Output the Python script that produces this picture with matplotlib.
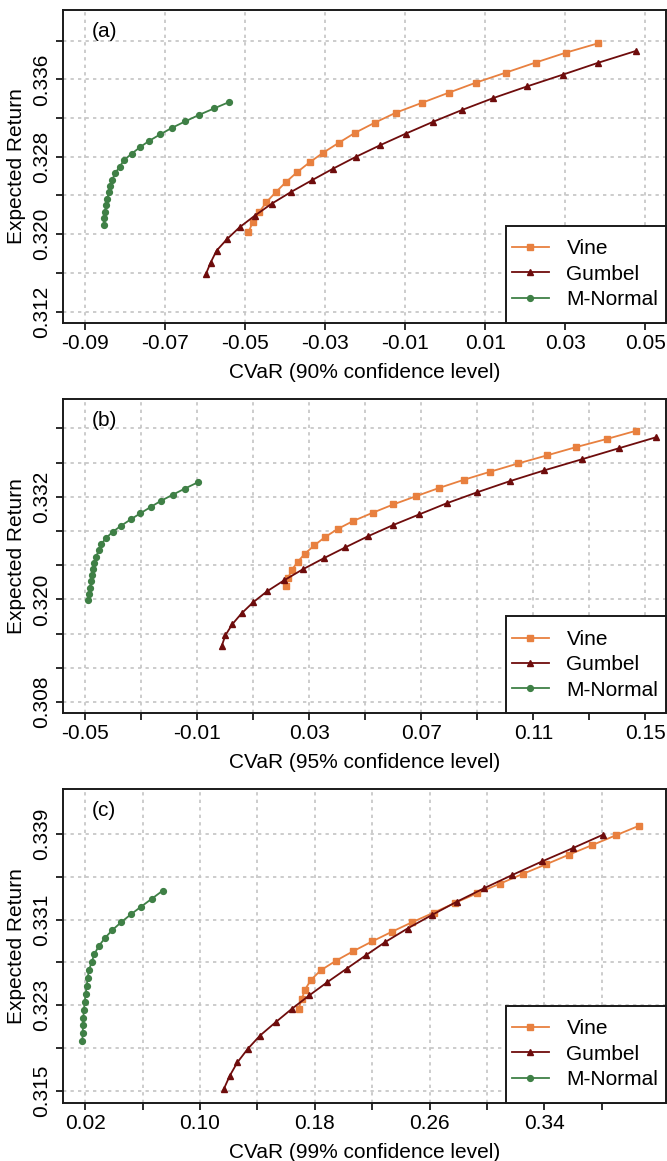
import matplotlib
matplotlib.use("Agg")
import matplotlib.pyplot as plt
from matplotlib.patches import Rectangle
from matplotlib.lines import Line2D

plt.rcParams['font.family'] = ['Liberation Sans', 'DejaVu Sans']

# ---- panel (a): 90% ----
a_vine_x = [-0.04918, -0.04812, -0.04652, -0.04472, -0.04238, -0.03987, -0.03707, -0.03388, -0.03047, -0.02654,
            -0.02261, -0.01761, -0.01230, -0.00571, 0.00089, 0.00769, 0.01513, 0.02257, 0.03012, 0.03820]
a_vine_y = [0.32020, 0.32123, 0.32226, 0.32330, 0.32433, 0.32536, 0.32639, 0.32743, 0.32843, 0.32946,
            0.33046, 0.33152, 0.33256, 0.33359, 0.33462, 0.33566, 0.33669, 0.33773, 0.33875, 0.33972]
a_gumbel_x = [-0.05981, -0.05864, -0.05715, -0.05450, -0.05141, -0.04759, -0.04334, -0.03855, -0.03334, -0.02803,
              -0.02239, -0.01634, -0.00985, -0.00294, 0.00418, 0.01205, 0.02055, 0.02937, 0.03830, 0.04765]
a_gumbel_y = [0.31589, 0.31706, 0.31830, 0.31951, 0.32071, 0.32192, 0.32316, 0.32436, 0.32557, 0.32677,
              0.32798, 0.32918, 0.33039, 0.33163, 0.33283, 0.33407, 0.33528, 0.33648, 0.33772, 0.33893]
a_mnorm_x = [-0.08535, -0.08520, -0.08503, -0.08478, -0.08445, -0.08410, -0.08370, -0.08320, -0.08245, -0.08135,
             -0.08028, -0.07835, -0.07628, -0.07396, -0.07121, -0.06828, -0.06496, -0.06154, -0.05779, -0.05396]
a_mnorm_y = [0.32098, 0.32165, 0.32232, 0.32298, 0.32365, 0.32432, 0.32498, 0.32565, 0.32632, 0.32699,
             0.32765, 0.32832, 0.32899, 0.32965, 0.33032, 0.33099, 0.33166, 0.33232, 0.33299, 0.33366]

# ---- panel (b): 95% ----
b_vine_x = [0.02165, 0.02244, 0.02379, 0.02590, 0.02851, 0.03182, 0.03564, 0.04018, 0.04582, 0.05278,
            0.06006, 0.06813, 0.07634, 0.08512, 0.09469, 0.10458, 0.11504, 0.12536, 0.13632, 0.14678]
b_vine_y = [0.32152, 0.32248, 0.32344, 0.32439, 0.32535, 0.32631, 0.32727, 0.32823, 0.32918, 0.33014,
            0.33110, 0.33206, 0.33302, 0.33397, 0.33493, 0.33589, 0.33685, 0.33781, 0.33876, 0.33972]
b_gumbel_x = [-0.00127, 0.00009, 0.00251, 0.00587, 0.00998, 0.01497, 0.02104, 0.02772, 0.03518, 0.04293,
              0.05096, 0.05978, 0.06935, 0.07906, 0.08998, 0.10155, 0.11401, 0.12736, 0.14057, 0.15378]
b_gumbel_y = [0.31450, 0.31579, 0.31707, 0.31836, 0.31965, 0.32094, 0.32222, 0.32351, 0.32480, 0.32608,
              0.32737, 0.32866, 0.32994, 0.33123, 0.33252, 0.33381, 0.33509, 0.33638, 0.33767, 0.33895]
b_mnorm_x = [-0.04879, -0.04850, -0.04818, -0.04789, -0.04757, -0.04714, -0.04668, -0.04607, -0.04514, -0.04425,
             -0.04257, -0.04015, -0.03711, -0.03376, -0.03026, -0.02662, -0.02298, -0.01873, -0.01434, -0.00977]
b_mnorm_y = [0.31992, 0.32064, 0.32137, 0.32209, 0.32282, 0.32354, 0.32427, 0.32499, 0.32572, 0.32644,
             0.32716, 0.32789, 0.32861, 0.32934, 0.33006, 0.33079, 0.33151, 0.33223, 0.33296, 0.33368]

# ---- panel (c): 99% ----
c_vine_x = [0.16874, 0.17083, 0.17320, 0.17731, 0.18414, 0.19480, 0.20699, 0.22002, 0.23361, 0.24789,
            0.26301, 0.27778, 0.29318, 0.30920, 0.32495, 0.34125, 0.35720, 0.37351, 0.38981, 0.40611]
c_vine_y = [0.32266, 0.32356, 0.32446, 0.32536, 0.32626, 0.32716, 0.32806, 0.32896, 0.32985, 0.33075,
            0.33165, 0.33255, 0.33345, 0.33435, 0.33525, 0.33615, 0.33705, 0.33795, 0.33885, 0.33975]
c_gumbel_x = [0.11656, 0.12074, 0.12604, 0.13321, 0.14178, 0.15272, 0.16401, 0.17613, 0.18888, 0.20226,
              0.21557, 0.22922, 0.24462, 0.26148, 0.27896, 0.29791, 0.31777, 0.33825, 0.35985, 0.38089]
c_gumbel_y = [0.31517, 0.31642, 0.31767, 0.31892, 0.32017, 0.32142, 0.32267, 0.32392, 0.32517, 0.32642,
              0.32766, 0.32891, 0.33016, 0.33141, 0.33266, 0.33391, 0.33516, 0.33641, 0.33766, 0.33891]
c_mnorm_x = [0.01805, 0.01833, 0.01854, 0.01875, 0.01923, 0.01972, 0.02042, 0.02111, 0.02181, 0.02272,
             0.02460, 0.02641, 0.02948, 0.03366, 0.03874, 0.04501, 0.05177, 0.05915, 0.06661, 0.07406]
c_mnorm_y = [0.31964, 0.32038, 0.32112, 0.32186, 0.32260, 0.32334, 0.32408, 0.32482, 0.32556, 0.32630,
             0.32703, 0.32777, 0.32851, 0.32925, 0.32999, 0.33073, 0.33147, 0.33221, 0.33295, 0.33369]

# ticks (label '' = tick without label)
a_xticks = [-0.09, -0.07, -0.05, -0.03, -0.01, 0.01, 0.03, 0.05]
a_xlabels = ['-0.09', '-0.07', '-0.05', '-0.03', '-0.01', '0.01', '0.03', '0.05']
a_yticks = [0.312, 0.316, 0.320, 0.324, 0.328, 0.332, 0.336, 0.340]
a_ylabels = ['0.312', '', '0.320', '', '0.328', '', '0.336', '']

b_xticks = [-0.05, -0.03, -0.01, 0.01, 0.03, 0.05, 0.07, 0.09, 0.11, 0.13, 0.15]
b_xlabels = ['-0.05', '', '-0.01', '', '0.03', '', '0.07', '', '0.11', '', '0.15']
b_yticks = [0.308, 0.312, 0.316, 0.320, 0.324, 0.328, 0.332, 0.336, 0.340]
b_ylabels = ['0.308', '', '', '0.320', '', '', '0.332', '', '']

c_xticks = [0.02, 0.06, 0.10, 0.14, 0.18, 0.22, 0.26, 0.30, 0.34, 0.38]
c_xlabels = ['0.02', '', '0.10', '', '0.18', '', '0.26', '', '0.34', '']
c_yticks = [0.315, 0.319, 0.323, 0.327, 0.331, 0.335, 0.339]
c_ylabels = ['0.315', '', '0.323', '', '0.331', '', '0.339']

series_names = ["Vine", "Gumbel", "M-Normal"]
colors = ["#E8803F", "#6E0C0C", "#3F8046"]
markers = ["s", "^", "o"]
msizes = [4.2, 5.0, 4.2]
FS = 15

W, H = 667, 1161
fig = plt.figure(figsize=(W / 100, H / 100), dpi=100)


def draw_panel(box, xlim, ylim, xt, xl, yt, yl, curves, xlabel, tag):
    left, top, right, bottom = box
    ax = fig.add_axes([left / W, 1 - bottom / H, (right - left) / W, (bottom - top) / H])
    ax.set_xlim(xlim)
    ax.set_ylim(ylim)
    ax.set_xticks(xt)
    ax.set_xticklabels(xl)
    ax.set_yticks(yt)
    ax.set_yticklabels(yl, rotation=90, va='center')
    ax.grid(True, color='#c4c4c4', linestyle=(0, (2, 2.5)), linewidth=1.2)
    ax.set_axisbelow(True)
    for s in ax.spines.values():
        s.set_linewidth(1.4)
        s.set_color('#1a1a1a')
    ax.tick_params(length=5, width=1.3, color='#1a1a1a', labelsize=FS, pad=3)
    ax.tick_params(axis='y', pad=3.5)
    for (x, y), c, m, ms in zip(curves, colors, markers, msizes):
        ax.plot(x, y, color=c, marker=m, markersize=ms, linewidth=1.3)
    ax.set_xlabel(xlabel, fontsize=FS, labelpad=7)
    ax.set_ylabel("Expected Return", fontsize=FS, labelpad=5)
    ax.annotate(tag, xy=(0, 1), xycoords='axes fraction', xytext=(29.5, -15.6),
                textcoords='offset points', ha='center', va='center', fontsize=FS)

    # legend box at the bottom right corner, like R's legend("bottomright")
    wbox = (right - 506) / (right - left)
    hbox = 97 / (bottom - top)
    ax.add_patch(Rectangle((1 - wbox, 0), wbox, hbox, transform=ax.transAxes,
                           facecolor='white', edgecolor='#1a1a1a', linewidth=1.4,
                           zorder=5, clip_on=False))
    handles = [Line2D([], [], color=c, marker=m, markersize=ms, linewidth=1.3)
               for c, m, ms in zip(colors, markers, msizes)]
    leg = ax.legend(handles, series_names, loc='center left',
                    bbox_to_anchor=(1 - wbox, hbox / 2), frameon=False, fontsize=FS,
                    handlelength=1.75, handletextpad=0.85, labelspacing=0.3,
                    borderpad=0.0, borderaxespad=0.3)
    leg.set_zorder(6)
    return ax


draw_panel((63.3, 10, 665.7, 322.7), (-0.09545, 0.0551), (0.31086, 0.34316),
           a_xticks, a_xlabels, a_yticks, a_ylabels,
           [(a_vine_x, a_vine_y), (a_gumbel_x, a_gumbel_y), (a_mnorm_x, a_mnorm_y)],
           "CVaR (90% confidence level)", "(a)")
draw_panel((63.3, 399, 665.7, 713.3), (-0.05778, 0.15728), (0.30667, 0.34343),
           b_xticks, b_xlabels, b_yticks, b_ylabels,
           [(b_vine_x, b_vine_y), (b_gumbel_x, b_gumbel_y), (b_mnorm_x, b_mnorm_y)],
           "CVaR (95% confidence level)", "(b)")
draw_panel((63.3, 789.3, 665.7, 1102.7), (0.00481, 0.42451), (0.31392, 0.34314),
           c_xticks, c_xlabels, c_yticks, c_ylabels,
           [(c_vine_x, c_vine_y), (c_gumbel_x, c_gumbel_y), (c_mnorm_x, c_mnorm_y)],
           "CVaR (99% confidence level)", "(c)")

fig.savefig("out.png", dpi=100)
